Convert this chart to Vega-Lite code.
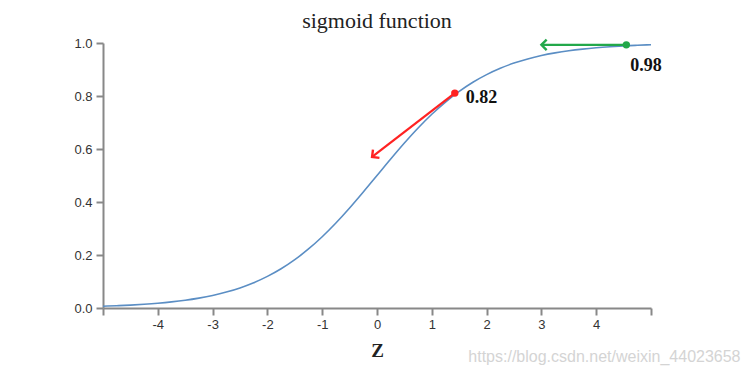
{
  "$schema": "https://vega.github.io/schema/vega-lite/v6.json",
  "autosize": "none",
  "width": 548,
  "height": 265,
  "padding": {"left": 103, "top": 43, "right": 93, "bottom": 68},
  "background": "white",
  "config": {"view": {"stroke": null}},
  "title": {
    "text": "sigmoid function",
    "font": "Liberation Serif",
    "fontSize": 22,
    "fontWeight": "normal",
    "color": "#222",
    "anchor": "middle",
    "offset": 2
  },
  "datasets": {
    "curve": [
      {"z": -5, "s": 0.0067}, {"z": -4.75, "s": 0.0086}, {"z": -4.5, "s": 0.011}, {"z": -4.25, "s": 0.0141},
      {"z": -4, "s": 0.018}, {"z": -3.75, "s": 0.023}, {"z": -3.5, "s": 0.0293}, {"z": -3.25, "s": 0.0374},
      {"z": -3, "s": 0.0474}, {"z": -2.75, "s": 0.0601}, {"z": -2.5, "s": 0.0759}, {"z": -2.25, "s": 0.0953},
      {"z": -2, "s": 0.1192}, {"z": -1.75, "s": 0.148}, {"z": -1.5, "s": 0.1824}, {"z": -1.25, "s": 0.2227},
      {"z": -1, "s": 0.2689}, {"z": -0.75, "s": 0.3208}, {"z": -0.5, "s": 0.3775}, {"z": -0.25, "s": 0.4378},
      {"z": 0, "s": 0.5}, {"z": 0.25, "s": 0.5622}, {"z": 0.5, "s": 0.6225}, {"z": 0.75, "s": 0.6792},
      {"z": 1, "s": 0.7311}, {"z": 1.25, "s": 0.7773}, {"z": 1.5, "s": 0.8176}, {"z": 1.75, "s": 0.852},
      {"z": 2, "s": 0.8808}, {"z": 2.25, "s": 0.9047}, {"z": 2.5, "s": 0.9241}, {"z": 2.75, "s": 0.9399},
      {"z": 3, "s": 0.9526}, {"z": 3.25, "s": 0.9626}, {"z": 3.5, "s": 0.9707}, {"z": 3.75, "s": 0.977},
      {"z": 4, "s": 0.982}, {"z": 4.25, "s": 0.9859}, {"z": 4.5, "s": 0.989}, {"z": 4.75, "s": 0.9914},
      {"z": 5, "s": 0.9933}
    ],
    "arrows": [
      {"id": "red", "z": 1.42, "s": 0.811, "z2": -0.09, "s2": 0.57, "label": "0.82"},
      {"id": "green", "z": 4.55, "s": 0.993, "z2": 3.0, "s2": 0.993, "label": "0.98"}
    ],
    "note": [
      {"z": 4.15, "s": -0.185, "text": "https://blog.csdn.net/weixin_44023658"}
    ]
  },
  "layer": [
    {
      "data": {"name": "curve"},
      "mark": {"type": "line", "color": "#5b8ec4", "strokeWidth": 1.6, "interpolate": "monotone"},
      "encoding": {
        "x": {
          "field": "z", "type": "quantitative",
          "scale": {"domain": [-5, 5], "nice": false, "zero": false},
          "axis": {
            "title": "Z",
            "titleFont": "Liberation Serif",
            "titleFontSize": 19,
            "titleFontWeight": "bold",
            "titleColor": "#222",
            "titlePadding": 10,
            "values": [-5, -4, -3, -2, -1, 0, 1, 2, 3, 4, 5],
            "labelExpr": "abs(datum.value) == 5 ? '' : ('' + datum.value)",
            "grid": false,
            "domainColor": "#888",
            "domainWidth": 2,
            "tickColor": "#888",
            "tickWidth": 2,
            "tickSize": 7,
            "labelFont": "Liberation Sans",
            "labelFontSize": 13,
            "labelColor": "#333",
            "labelPadding": 3
          }
        },
        "y": {
          "field": "s", "type": "quantitative",
          "scale": {"domain": [0, 1], "nice": false},
          "axis": {
            "title": null,
            "values": [0, 0.2, 0.4, 0.6, 0.8, 1.0],
            "format": ".1f",
            "grid": false,
            "domainColor": "#888",
            "domainWidth": 2,
            "tickColor": "#888",
            "tickWidth": 2,
            "tickSize": 7,
            "labelFont": "Liberation Sans",
            "labelFontSize": 13,
            "labelColor": "#333",
            "labelPadding": 4
          }
        }
      }
    },
    {
      "data": {"name": "arrows"},
      "transform": [{"filter": "datum.id == 'red'"}],
      "layer": [
        {
          "mark": {"type": "rule", "color": "#f22", "strokeWidth": 2.2},
          "encoding": {
            "x": {"field": "z", "type": "quantitative"},
            "y": {"field": "s", "type": "quantitative"},
            "x2": {"field": "z2"},
            "y2": {"field": "s2"}
          }
        },
        {
          "mark": {"type": "point", "shape": "M-1,1L0,0L1,1", "filled": false, "color": "#f22", "strokeWidth": 2.4, "size": 110, "angle": 232, "opacity": 1},
          "encoding": {
            "x": {"field": "z2", "type": "quantitative"},
            "y": {"field": "s2", "type": "quantitative"}
          }
        },
        {
          "mark": {"type": "circle", "color": "#f22", "size": 55, "opacity": 1},
          "encoding": {
            "x": {"field": "z", "type": "quantitative"},
            "y": {"field": "s", "type": "quantitative"}
          }
        },
        {
          "mark": {"type": "text", "font": "Liberation Serif", "fontWeight": "bold", "fontSize": 18, "color": "#111", "align": "left", "dx": 11, "dy": 5},
          "encoding": {
            "x": {"field": "z", "type": "quantitative"},
            "y": {"field": "s", "type": "quantitative"},
            "text": {"field": "label"}
          }
        }
      ]
    },
    {
      "data": {"name": "arrows"},
      "transform": [{"filter": "datum.id == 'green'"}],
      "layer": [
        {
          "mark": {"type": "rule", "color": "#22a84a", "strokeWidth": 2.2},
          "encoding": {
            "x": {"field": "z", "type": "quantitative"},
            "y": {"field": "s", "type": "quantitative"},
            "x2": {"field": "z2"},
            "y2": {"field": "s2"}
          }
        },
        {
          "mark": {"type": "point", "shape": "M-1,1L0,0L1,1", "filled": false, "color": "#22a84a", "strokeWidth": 2.4, "size": 110, "angle": 270, "opacity": 1},
          "encoding": {
            "x": {"field": "z2", "type": "quantitative"},
            "y": {"field": "s2", "type": "quantitative"}
          }
        },
        {
          "mark": {"type": "circle", "color": "#22a84a", "size": 55, "opacity": 1},
          "encoding": {
            "x": {"field": "z", "type": "quantitative"},
            "y": {"field": "s", "type": "quantitative"}
          }
        },
        {
          "mark": {"type": "text", "font": "Liberation Serif", "fontWeight": "bold", "fontSize": 18, "color": "#111", "align": "left", "dx": 4, "dy": 21},
          "encoding": {
            "x": {"field": "z", "type": "quantitative"},
            "y": {"field": "s", "type": "quantitative"},
            "text": {"field": "label"}
          }
        }
      ]
    },
    {
      "data": {"name": "note"},
      "mark": {"type": "text", "font": "Liberation Sans", "fontSize": 16, "color": "#d4d4d4", "align": "center", "baseline": "middle", "clip": false},
      "encoding": {
        "x": {"field": "z", "type": "quantitative"},
        "y": {"field": "s", "type": "quantitative"},
        "text": {"field": "text"}
      }
    }
  ]
}
